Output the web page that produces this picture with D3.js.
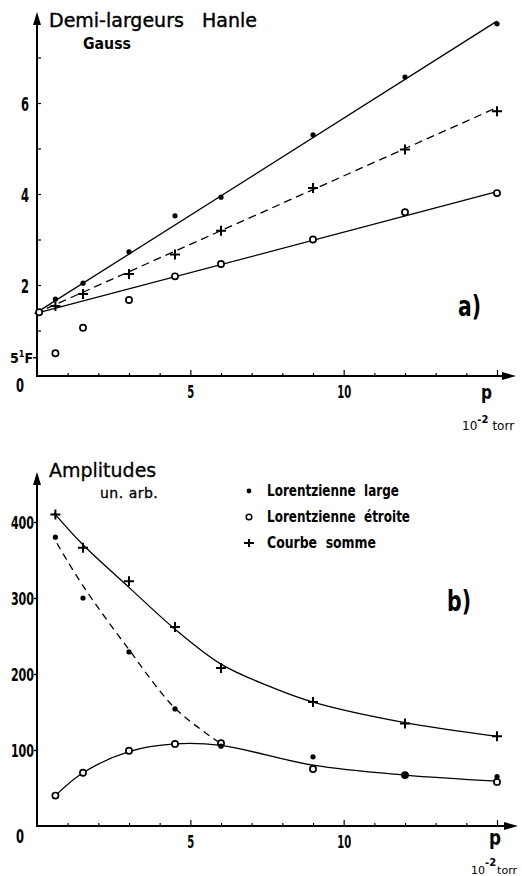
<!DOCTYPE html>
<html>
<head>
<meta charset="utf-8">
<script src="https://cdn.jsdelivr.net/npm/d3@7/dist/d3.min.js"></script>
<style>
  body { margin: 0; background: #fff; }
  svg { display: block; }
  .cond { font-family: "Liberation Sans Narrow", "DejaVu Sans Condensed", sans-serif; font-weight: bold; fill: #000; }
  .round { font-family: "DejaVu Sans", sans-serif; fill: #000; }
</style>
</head>
<body>
<div id="chart"></div>
<script>
// valeurs
var pressure = [0.6, 1.5, 3, 4.5, 6, 9, 12, 15];

// a) demi-largeurs Hanle (gauss)
var largeTop = [1.69, 2.04, 2.73, 3.52, 3.93, 5.3, 6.57, 7.74];
var sumTop = [1.54, 1.8, 2.24, 2.67, 3.19, 4.13, 4.98, 5.82];
var narrowTopP = [0.6, 1.5, 3, 4.5, 6, 9, 12, 15, 0.07];
var narrowTop = [0.5, 1.06, 1.67, 2.19, 2.46, 3.0, 3.6, 4.02, 1.4];
var fitTopP = [-0.07, 15];
var fitLargeTop = [1.37, 7.8];
var fitSumTop = [1.37, 5.9];
var fitNarrowTop = [1.37, 4.05];
var yTicksTop = [1, 2, 3, 4, 5, 6, 7];
var yLabelsTop = [2, 4, 6];

// b) amplitudes (un. arb.)
var sumBot = [410, 366, 322, 262, 208, 163, 135, 118];
var largeBot = [380, 300, 229, 154, 105, 91, 67, 65];
var narrowBot = [40, 70, 99, 108, 109, 75, 67, 58];
var sumFitP = [0.55, 1.5, 3, 4.5, 6, 7.5, 9, 12, 15];
var sumFitV = [412, 370, 314, 259, 213, 185, 163, 136, 118];
var narrowFitP = [0.6, 1.5, 3, 4.5, 6, 9, 12, 15];
var narrowFitV = [40, 70, 98, 108, 106, 80, 67, 59];
var largeFitP = [0.65, 1.5, 3, 4.5, 5.9];
var largeFitV = [372, 316, 232, 155, 111];
var yTicksBot = [100, 200, 300, 400];

var xTicks = d3.range(1, 16);
var xLabels = [5, 10];
var legendLabels = [["dot", "Lorentzienne  large", 132], ["circle", "Lorentzienne  étroite", 143], ["plus", "Courbe  somme", 109]];

var W = 522, H = 876;
var svg = d3.select("#chart").append("svg").attr("width", W).attr("height", H);

var x = d3.scaleLinear().domain([0, 15]).range([37, 497]);
var yA = d3.scaleLinear().domain([0, 7]).range([376, 57.5]);
var yB = d3.scaleLinear().domain([0, 400]).range([826, 522]);

// lettres étroites comme sur l'original
function narrow(sel, perChar) {
  sel.each(function () {
    var t = d3.select(this), n = t.text().length;
    if (n) t.attr("textLength", n * perChar).attr("lengthAdjust", "spacingAndGlyphs");
  });
  return sel;
}

function arrowAxes(y0, yTop, xEnd) {
  svg.append("line").attr("x1", 37).attr("x2", 37).attr("y1", y0).attr("y2", yTop + 8)
     .attr("stroke", "#000").attr("stroke-width", 2);
  svg.append("path").attr("d", "M37," + yTop + " L33," + (yTop + 13) + " L41," + (yTop + 13) + " Z");
  svg.append("line").attr("x1", 36).attr("x2", xEnd - 8).attr("y1", y0).attr("y2", y0)
     .attr("stroke", "#000").attr("stroke-width", 2);
  svg.append("path").attr("d", "M" + xEnd + "," + y0 + " L" + (xEnd - 14) + "," + (y0 - 4) + " L" + (xEnd - 14) + "," + (y0 + 4) + " Z");
}

function xAxis(y0) {
  var g = svg.append("g").attr("transform", "translate(0," + y0 + ")")
    .call(d3.axisBottom(x).tickValues(xTicks).tickSize(-3).tickPadding(10)
      .tickFormat(function (d) { return xLabels.indexOf(d) >= 0 ? d : ""; }));
  g.select(".domain").remove();
  g.selectAll(".tick line").attr("stroke-width", 1.2)
    .attr("y2", function (d) { return d % 5 === 0 ? -6 : -3; });
  narrow(g.selectAll("text").attr("class", "cond").attr("font-size", 17), 7);
  g.attr("font-family", null).attr("font-size", null);
}

function dots(g, px, vals, y) {
  g.selectAll(null).data(vals).enter().append("circle")
    .attr("cx", function (d, i) { return x(px[i]); })
    .attr("cy", function (d) { return y(d); })
    .attr("r", 2.6).attr("fill", "#000");
}
function rings(g, px, vals, y) {
  g.selectAll(null).data(vals).enter().append("circle")
    .attr("cx", function (d, i) { return x(px[i]); })
    .attr("cy", function (d) { return y(d); })
    .attr("r", 3.1).attr("fill", "#fff").attr("stroke", "#000").attr("stroke-width", 1.7);
}
function pluses(g, px, vals, y) {
  g.selectAll(null).data(vals).enter().append("path")
    .attr("d", function (d, i) {
      var cx = x(px[i]), cy = y(d);
      return "M" + (cx - 5) + "," + cy + "H" + (cx + 5) + "M" + cx + "," + (cy - 5) + "V" + (cy + 5);
    })
    .attr("stroke", "#000").attr("stroke-width", 2);
}
function curve(px, vals, y, dash, kind) {
  var line = d3.line().x(function (d, i) { return x(px[i]); }).y(function (d) { return y(d); })
    .curve(kind || d3.curveLinear);
  svg.append("path").datum(vals).attr("d", line).attr("fill", "none")
    .attr("stroke", "#000").attr("stroke-width", 1.3)
    .attr("stroke-dasharray", dash || null);
}

// ---------- a) ----------
arrowAxes(376, 12, 516);
xAxis(376);

var gyA = svg.append("g").attr("transform", "translate(37,0)")
  .call(d3.axisLeft(yA).tickValues(yTicksTop).tickSize(-4).tickPadding(8)
    .tickFormat(function (d) { return yLabelsTop.indexOf(d) >= 0 ? d : ""; }));
gyA.select(".domain").remove();
gyA.selectAll(".tick line").attr("stroke-width", 1.2);
narrow(gyA.selectAll("text").attr("class", "cond").attr("font-size", 20).attr("dy", "0.36em"), 8);
gyA.attr("font-family", null).attr("font-size", null);

// niveau 5¹F
var yF = yA(0.4);
svg.append("line").attr("x1", 33).attr("x2", 37).attr("y1", yF).attr("y2", yF).attr("stroke", "#000").attr("stroke-width", 1.4);
var t5 = svg.append("text").attr("class", "cond").attr("x", 10).attr("y", yF + 5).attr("font-size", 14);
t5.append("tspan").text("5");
t5.append("tspan").attr("dy", -6).attr("font-size", 9).text("1");
t5.append("tspan").attr("dy", 6).text("F");

narrow(svg.append("text").attr("class", "cond").attr("x", 20).attr("y", 392).attr("text-anchor", "middle").attr("font-size", 20).text("0"), 8);

curve(fitTopP, fitLargeTop, yA);
curve(fitTopP, fitSumTop, yA, "8,5");
curve(fitTopP, fitNarrowTop, yA);

var gA = svg.append("g");
rings(gA, narrowTopP, narrowTop, yA);
pluses(gA, pressure, sumTop, yA);
dots(gA, pressure, largeTop, yA);

svg.append("text").attr("class", "round").attr("x", 49).attr("y", 27).attr("font-size", 19).attr("stroke", "#000").attr("stroke-width", 0.4).text("Demi-largeurs");
svg.append("text").attr("class", "round").attr("x", 202).attr("y", 27).attr("font-size", 19).attr("stroke", "#000").attr("stroke-width", 0.4).text("Hanle");
svg.append("text").attr("class", "round").attr("x", 83).attr("y", 49).attr("font-size", 15).attr("font-weight", "bold")
  .attr("textLength", 48).attr("lengthAdjust", "spacingAndGlyphs").text("Gauss");
svg.append("text").attr("class", "cond").attr("x", 458).attr("y", 316).attr("font-size", 28)
  .attr("textLength", 23).attr("lengthAdjust", "spacingAndGlyphs").text("a)");

svg.append("text").attr("class", "cond").attr("x", 481).attr("y", 399).attr("font-size", 19)
  .attr("textLength", 11).attr("lengthAdjust", "spacingAndGlyphs").text("p");
var tu = svg.append("text").attr("class", "round").attr("x", 462).attr("y", 430).attr("font-size", 12);
tu.append("tspan").text("10");
tu.append("tspan").attr("dy", -7).attr("font-size", 10).attr("font-weight", "bold").text("-2");
tu.append("tspan").attr("dy", 7).attr("dx", 4).text("torr");

// ---------- b) ----------
arrowAxes(826, 472, 518);
xAxis(826);

var gyB = svg.append("g").attr("transform", "translate(37,0)")
  .call(d3.axisLeft(yB).tickValues(yTicksBot).tickSize(3).tickPadding(0));
gyB.select(".domain").remove();
gyB.selectAll(".tick line").attr("stroke-width", 1.4);
narrow(gyB.selectAll("text").attr("class", "cond").attr("font-size", 18).attr("dy", "0.36em"), 7.7);
gyB.attr("font-family", null).attr("font-size", null);

narrow(svg.append("text").attr("class", "cond").attr("x", 20).attr("y", 843).attr("text-anchor", "middle").attr("font-size", 20).text("0"), 8);

curve(sumFitP, sumFitV, yB, null, d3.curveCatmullRom.alpha(0.5));
curve(narrowFitP, narrowFitV, yB, null, d3.curveCatmullRom.alpha(0.5));
curve(largeFitP, largeFitV, yB, "7,5", d3.curveCatmullRom.alpha(0.5));

var gB = svg.append("g");
rings(gB, pressure, narrowBot, yB);
dots(gB, pressure, largeBot, yB);
pluses(gB, pressure, sumBot, yB);

svg.append("text").attr("class", "round").attr("x", 49).attr("y", 477).attr("font-size", 19).attr("stroke", "#000").attr("stroke-width", 0.3).text("Amplitudes");
svg.append("text").attr("class", "round").attr("x", 100).attr("y", 498).attr("font-size", 14).attr("stroke", "#000").attr("stroke-width", 0.3).attr("letter-spacing", 0.5).text("un. arb.");

// légende
var lg = svg.append("g");
legendLabels.forEach(function (d, i) {
  var ly = 491 + i * 26;
  if (d[0] === "dot") lg.append("circle").attr("cx", 249).attr("cy", ly).attr("r", 2.4);
  if (d[0] === "circle") lg.append("circle").attr("cx", 249).attr("cy", ly).attr("r", 2.8).attr("fill", "#fff").attr("stroke", "#000").attr("stroke-width", 1.5);
  if (d[0] === "plus") lg.append("path").attr("d", "M" + 244 + "," + ly + "H254M249," + (ly - 4) + "V" + (ly + 4)).attr("stroke", "#000").attr("stroke-width", 2);
  lg.append("text").attr("class", "cond").attr("x", 267).attr("y", ly + 5).attr("font-size", 15)
    .attr("textLength", d[2]).attr("lengthAdjust", "spacingAndGlyphs").attr("xml:space", "preserve").text(d[1]);
});

svg.append("text").attr("class", "cond").attr("x", 447).attr("y", 611).attr("font-size", 29)
  .attr("textLength", 24).attr("lengthAdjust", "spacingAndGlyphs").text("b)");

svg.append("text").attr("class", "cond").attr("x", 489).attr("y", 845).attr("font-size", 21)
  .attr("textLength", 12).attr("lengthAdjust", "spacingAndGlyphs").text("p");
var tb = svg.append("text").attr("class", "round").attr("x", 471).attr("y", 874).attr("font-size", 11);
tb.append("tspan").text("10");
tb.append("tspan").attr("dy", -8).attr("font-size", 10).attr("font-weight", "bold").text("-2");
tb.append("tspan").attr("dy", 8).attr("dx", 1).text("torr");
</script>
</body>
</html>
